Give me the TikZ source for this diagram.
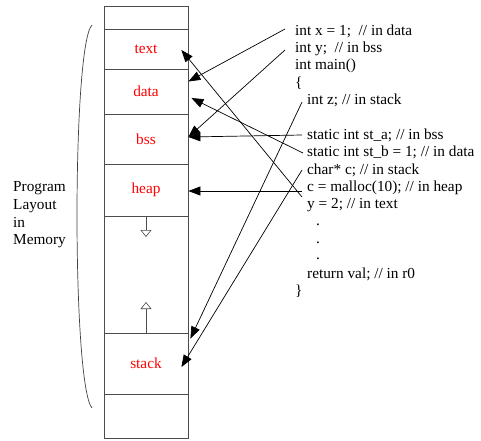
\documentclass[tikz,border=0pt]{standalone}
\usepackage{fontspec}
\setmainfont{Liberation Serif}
\usetikzlibrary{arrows.meta}

\begin{document}
\begin{tikzpicture}[x=1pt, y=-1pt,
    every node/.style={font=\fontsize{15.3}{18}\selectfont},
    seg/.style={draw=black!70, line width=0.8pt, minimum width=84pt, inner sep=0pt, text=red},
    code/.style={anchor=base west, inner sep=0pt, text height=10pt, text depth=0pt},
    ptr/.style={-{Triangle[length=12pt,width=9pt]}, line width=0.7pt},
    growarrow/.style={-{Triangle[open,length=7pt,width=11pt]}, line width=0.6pt, draw=black!70}]
  \useasboundingbox (0,0) rectangle (481,440);

  % memory column
  \node[seg, minimum height=22.5pt] (topseg)    at (146,17.75) {};
  \node[seg, minimum height=40pt]   (textseg)   at (146,49)    {text};
  \node[seg, minimum height=45pt]   (dataseg)   at (146,91.5)  {data};
  \node[seg, minimum height=50pt]   (bssseg)    at (146,139)   {bss};
  \node[seg, minimum height=52pt]   (heapseg)   at (146,190)   {heap};
  \node[seg, minimum height=117pt]  (gapseg)    at (146,274.5) {};
  \node[seg, minimum height=61pt]   (stackseg)  at (146,363.5) {stack};
  \node[seg, minimum height=44pt]   (bottomseg) at (146,416)   {};

  % growth directions
  \coordinate (heapgrow) at (146,237);
  \coordinate (stackgrow) at (146,302);
  \draw[growarrow] (heapseg.south) -- (heapgrow);
  \draw[growarrow] (stackseg.north) -- (stackgrow);

  % bracket and caption
  \draw[black!75, line width=0.7pt] (92,25) .. controls (72,45) and (72,385) .. (92,408);
  \node[align=left, anchor=west, inner sep=0pt, font=\fontsize{15.3}{17.7}\selectfont]
    (layoutlbl) at (13,215) {Program\\Layout\\in\\Memory};

  % source code
  \node[code] (xdecl)      at (295,35)    {int x = 1;\ \ // in data};
  \node[code] (ydecl)      at (295,52)    {int y;\ \ // in bss};
  \node[code] (mainline)   at (295,69.5)  {int main()};
  \node[code] (openbrace)  at (295,87)    {\{};
  \node[code] (zdecl)      at (307,104.5) {int z; // in stack};
  \node[code] (stadecl)    at (307,139)   {static int st\_a; // in bss};
  \node[code] (stbdecl)    at (307,156.5) {static int st\_b = 1; // in data};
  \node[code] (cdecl)      at (307,174)   {char* c; // in stack};
  \node[code] (mallocline) at (307,191)   {c = malloc(10); // in heap};
  \node[code] (yassign)    at (307,208.5) {y = 2; // in text};
  \node[code] (dotA)       at (316,225)   {.};
  \node[code] (dotB)       at (316,243)   {.};
  \node[code] (dotC)       at (316,259)   {.};
  \node[code] (retline)    at (307,278)   {return val; // in r0};
  \node[code] (closebrace) at (295,295)   {\}};

  % where each variable lives
  \draw[ptr] ([xshift=-10pt,yshift=1pt]xdecl.west) -- ([yshift=10pt]dataseg.east);
  \draw[ptr] ([xshift=-10pt,yshift=-3pt]ydecl.west) -- ([yshift=2pt]bssseg.east);
  \draw[ptr] ([xshift=-5pt,yshift=-2.5pt]zdecl.west) -- ([xshift=2pt,yshift=-6pt]stackseg.north east);
  \draw[ptr] ([xshift=-5pt,yshift=-1pt]stadecl.west) -- ([yshift=2pt]bssseg.east);
  \draw[ptr] ([xshift=-4pt,yshift=-1.5pt]stbdecl.west) -- ([xshift=3pt,yshift=-6.5pt]dataseg.east);
  \draw[ptr] ([xshift=-5pt,yshift=-1pt]cdecl.west) -- ([xshift=-7pt,yshift=-3.5pt]stackseg.east);
  \draw[ptr] ([xshift=-5pt,yshift=-5pt]mallocline.west) -- ([yshift=-1pt]heapseg.east);
  \draw[ptr] ([xshift=-5pt,yshift=6.5pt]yassign.west) -- ([xshift=-7pt,yshift=-1pt]textseg.east);
\end{tikzpicture}
\end{document}
